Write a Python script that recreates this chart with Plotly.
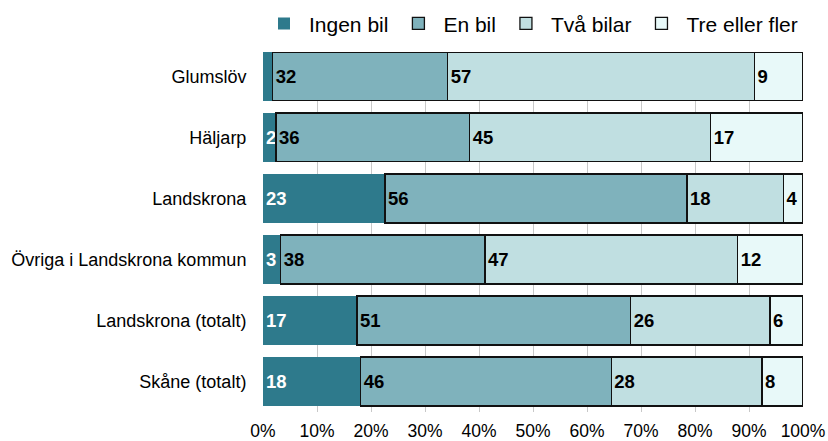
import plotly.graph_objects as go

categories = ["Glumslöv", "Häljarp", "Landskrona", "Övriga i Landskrona kommun",
              "Landskrona (totalt)", "Skåne (totalt)"]
series_names = ["Ingen bil", "En bil", "Två bilar", "Tre eller fler"]
ingen_bil = [1.8, 2.4, 22.6, 3.3, 17.4, 18.1]
en_bil = [32.4, 35.9, 55.9, 37.8, 50.7, 46.4]
tva_bilar = [56.8, 44.6, 17.9, 46.8, 25.8, 27.9]
tre_eller_fler = [9.0, 17.1, 3.6, 12.1, 6.0, 7.6]
x_ticks = [0, 10, 20, 30, 40, 50, 60, 70, 80, 90, 100]
x_tick_labels = [f"{t}%" for t in x_ticks]

series = [ingen_bil, en_bil, tva_bilar, tre_eller_fler]
colors = ["#2E7A8C", "#7FB2BC", "#C0DFE1", "#E8F9F9"]
text_colors = ["white", "black", "black", "black"]
FONT = "Liberation Sans, Arial, sans-serif"

fig = go.Figure()
for i, (name, vals) in enumerate(zip(series_names, series)):
    texts = [str(int(round(v))) if v >= 2 else "" for v in vals]
    fig.add_trace(go.Bar(
        y=categories, x=vals, name=name, orientation="h",
        marker=dict(color=colors[i],
                    line=dict(color="#111111", width=0 if i == 0 else 1.3)),
        text=texts, textposition="inside", insidetextanchor="start",
        constraintext="none",
        textfont=dict(family=FONT, size=18.5, color=text_colors[i], weight="bold"),
        hoverinfo="x+y+name",
    ))

fig.update_layout(
    barmode="stack", bargap=0.2,
    width=828, height=441,
    margin=dict(l=263, r=25, t=52, b=29, autoexpand=False),
    paper_bgcolor="white", plot_bgcolor="white",
    font=dict(family=FONT, size=18, color="black"),
    legend=dict(orientation="h", x=1.0, xanchor="right",
                yref="container", y=0.946, yanchor="middle",
                font=dict(size=21), traceorder="normal", itemwidth=40,
                bgcolor="rgba(0,0,0,0)", itemclick=False),
    showlegend=True,
)
fig.update_xaxes(range=[0, 100], tickvals=x_ticks, ticktext=x_tick_labels,
                 tickfont=dict(size=17.5),
                 showgrid=True, gridcolor="#C8C8C8", gridwidth=1,
                 zeroline=False, showline=False,
                 ticks="outside", ticklen=3, tickcolor="white",
                 layer="below traces")
fig.update_yaxes(type="category", categoryorder="array", categoryarray=categories,
                 range=[5.5, -0.4], showgrid=False, zeroline=False, showline=False,
                 ticks="outside", ticklen=12, tickcolor="white")

fig.write_html("out.html", config={"displayModeBar": False},
               post_script="document.body.style.margin='0';")
